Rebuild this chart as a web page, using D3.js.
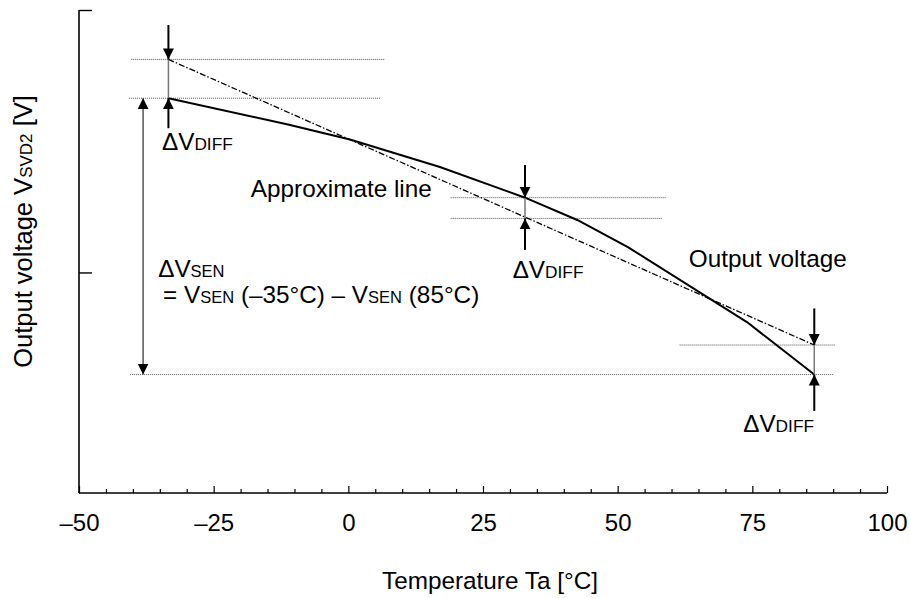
<!DOCTYPE html>
<html><head><meta charset="utf-8">
<script src="https://cdn.jsdelivr.net/npm/d3@7"></script>
<style>
html,body{margin:0;padding:0;background:#fff;}
svg text{font-family:"Liberation Sans",Arial,Helvetica,sans-serif;fill:#000;}
</style></head>
<body><svg id="c" width="910" height="598"></svg>
<script>
// ---- data ----
const xTicksMajor = [-50, -25, 0, 25, 50, 75, 100];
const xTickLabels = ["\u201350", "\u201325", "0", "25", "50", "75", "100"];
const xTicksMinor = [-45, -40, -35, -30, -20, -15, -10, -5, 5, 10, 15, 20, 30, 35, 40, 45, 55, 60, 65, 70, 80, 85, 90, 95];
const yTicks = [1.0, 2.19];
// output voltage curve (temperature, relative voltage)
const outTemp = [-33.4, -11, 0.3, 17.0, 32.8, 42.5, 51.9, 74.0, 86.5];
const outVolt = [1.790, 1.670, 1.603, 1.478, 1.339, 1.238, 1.115, 0.775, 0.537];
// approximate line endpoints
const approxTemp = [-33.4, 86.5];
const approxVolt = [1.966, 0.671];
// dotted reference lines: start temp, end temp, level
const refStart = [-40.3, -40.7, 19.0, 19.0, 61.5, -40.5];
const refEnd   = [6.7, 6.1, 58.9, 58.3, 90.4, 90.1];
const refLevel = [1.966, 1.790, 1.339, 1.245, 0.671, 0.537];
// ΔVDIFF markers: temp, upper level, lower level, top tail, bottom tail
const diffTemp  = [-33.4, 32.8, 86.5];
const diffUpper = [1.966, 1.339, 0.671];
const diffLower = [1.790, 1.245, 0.537];
const diffTop   = [2.122, 1.487, 0.837];
const diffBot   = [1.654, 1.102, 0.372];
// ΔVSEN span
const senTemp = -38.1;
const senRange = [1.790, 0.537];

// ---- chart ----
const svg = d3.select("#c");
const x = d3.scaleLinear().domain([-50, 100]).range([79, 887]);
const y = d3.scaleLinear().domain([0, 2.19]).range([493, 10]);

const defs = svg.append("defs");
defs.append("marker")
  .attr("id", "ah").attr("viewBox", "0 0 10 10").attr("refX", 10).attr("refY", 5)
  .attr("markerUnits", "userSpaceOnUse").attr("markerWidth", 11).attr("markerHeight", 12)
  .attr("orient", "auto")
  .append("path").attr("d", "M0,0 L10,5 L0,10 Z").attr("fill", "#000");
defs.append("marker")
  .attr("id", "ahs").attr("viewBox", "0 0 10 10").attr("refX", 0).attr("refY", 5)
  .attr("markerUnits", "userSpaceOnUse").attr("markerWidth", 11).attr("markerHeight", 12)
  .attr("orient", "auto")
  .append("path").attr("d", "M10,0 L0,5 L10,10 Z").attr("fill", "#000");

// axes
const gx = svg.append("g").attr("transform", `translate(0,${y(0)})`)
  .call(d3.axisBottom(x).tickValues(xTicksMajor).tickSize(-7).tickPadding(21)
    .tickFormat((d, i) => xTickLabels[i]));
gx.selectAll("text").attr("font-size", 24).attr("dy", "0.71em").attr("fill", "#000");
gx.select(".domain").attr("stroke-width", 1.6).attr("d", `M${x(-50)},0H${x(100)}`);
gx.selectAll(".tick line").attr("stroke-width", 1.2);
const gxm = svg.append("g").attr("transform", `translate(0,${y(0)})`)
  .call(d3.axisBottom(x).tickValues(xTicksMinor).tickSize(-4).tickFormat(""));
gxm.select(".domain").remove();
gxm.selectAll(".tick line").attr("stroke-width", 1.2);

const gy = svg.append("g").attr("transform", `translate(${x(-50)},0)`)
  .call(d3.axisLeft(y).tickValues(yTicks).tickSize(-13).tickFormat(""));
gy.select(".domain").attr("stroke-width", 1.6).attr("d", `M0,${y(0)}V${y(2.19)}`);
gy.selectAll(".tick line").attr("stroke-width", 1.4);

// dotted reference lines
svg.append("g").selectAll("line").data(refLevel).join("line")
  .attr("x1", (d, i) => x(refStart[i])).attr("x2", (d, i) => x(refEnd[i]))
  .attr("y1", d => y(d)).attr("y2", d => y(d))
  .attr("stroke", "#555").attr("stroke-width", 1).attr("stroke-dasharray", "1,1");

// approximate line (dash-dot)
const line = d3.line().x(d => x(d[0])).y(d => y(d[1]));
svg.append("path").datum(approxTemp.map((t, i) => [t, approxVolt[i]]))
  .attr("d", line).attr("fill", "none").attr("stroke", "#000")
  .attr("stroke-width", 1.3).attr("stroke-dasharray", "6,2,1.5,2");

// output voltage curve
svg.append("path").datum(outTemp.map((t, i) => [t, outVolt[i]]))
  .attr("d", line).attr("fill", "none").attr("stroke", "#000").attr("stroke-width", 2);

// ΔVDIFF markers
const gd = svg.append("g");
diffTemp.forEach((t, i) => {
  gd.append("line").attr("x1", x(t)).attr("x2", x(t)).attr("y1", y(diffUpper[i])).attr("y2", y(diffLower[i]))
    .attr("stroke", "#777").attr("stroke-width", 1.5);
  gd.append("line").attr("x1", x(t)).attr("x2", x(t)).attr("y1", y(diffTop[i])).attr("y2", y(diffUpper[i]))
    .attr("stroke", "#000").attr("stroke-width", 2).attr("marker-end", "url(#ah)");
  gd.append("line").attr("x1", x(t)).attr("x2", x(t)).attr("y1", y(diffBot[i])).attr("y2", y(diffLower[i]))
    .attr("stroke", "#000").attr("stroke-width", 2).attr("marker-end", "url(#ah)");
});
// ΔVSEN double arrow
svg.append("line").attr("x1", x(senTemp)).attr("x2", x(senTemp))
  .attr("y1", y(senRange[0])).attr("y2", y(senRange[1]))
  .attr("stroke", "#555").attr("stroke-width", 1.5)
  .attr("marker-start", "url(#ahs)").attr("marker-end", "url(#ah)");

// text labels
const FS = 24.3, SUB = 16.5, SUBD = 17.3;
function label(xp, yp, parts) {
  const t = svg.append("text").attr("x", xp).attr("y", yp).attr("font-size", FS);
  parts.forEach(p => t.append("tspan").attr("font-size", p[1] === 2 ? SUBD : p[1] ? SUB : FS).text(p[0]));
  return t;
}
label(x(-34.6), y(1.555), [["\u0394V", 0], ["DIFF", 2]]);
label(x(-18.1), y(1.344), [["Approximate line", 0]]);
label(x(30.5), y(0.975), [["\u0394V", 0], ["DIFF", 2]]);
label(x(63.2), y(1.026), [["Output voltage", 0]]);
label(x(-35.3), y(0.981), [["\u0394V", 0], ["SEN", 1]]);
label(x(-34.4), y(0.862), [["= V", 0], ["SEN", 1], [" (\u201335\u00B0C) \u2013 V", 0], ["SEN", 1], [" (85\u00B0C)", 0]]);
label(x(73.3), y(0.277), [["\u0394V", 0], ["DIFF", 2]]);

svg.append("text").attr("x", 490).attr("y", 589).attr("text-anchor", "middle")
  .attr("font-size", 24.3).text("Temperature Ta [\u00B0C]");
const yl = svg.append("text").attr("transform", "translate(31.5,231.5) rotate(-90)")
  .attr("text-anchor", "middle").attr("font-size", 25.5);
yl.append("tspan").text("Output voltage V");
yl.append("tspan").attr("font-size", 17).text("SVD2");
yl.append("tspan").text(" [V]");
</script></body></html>
